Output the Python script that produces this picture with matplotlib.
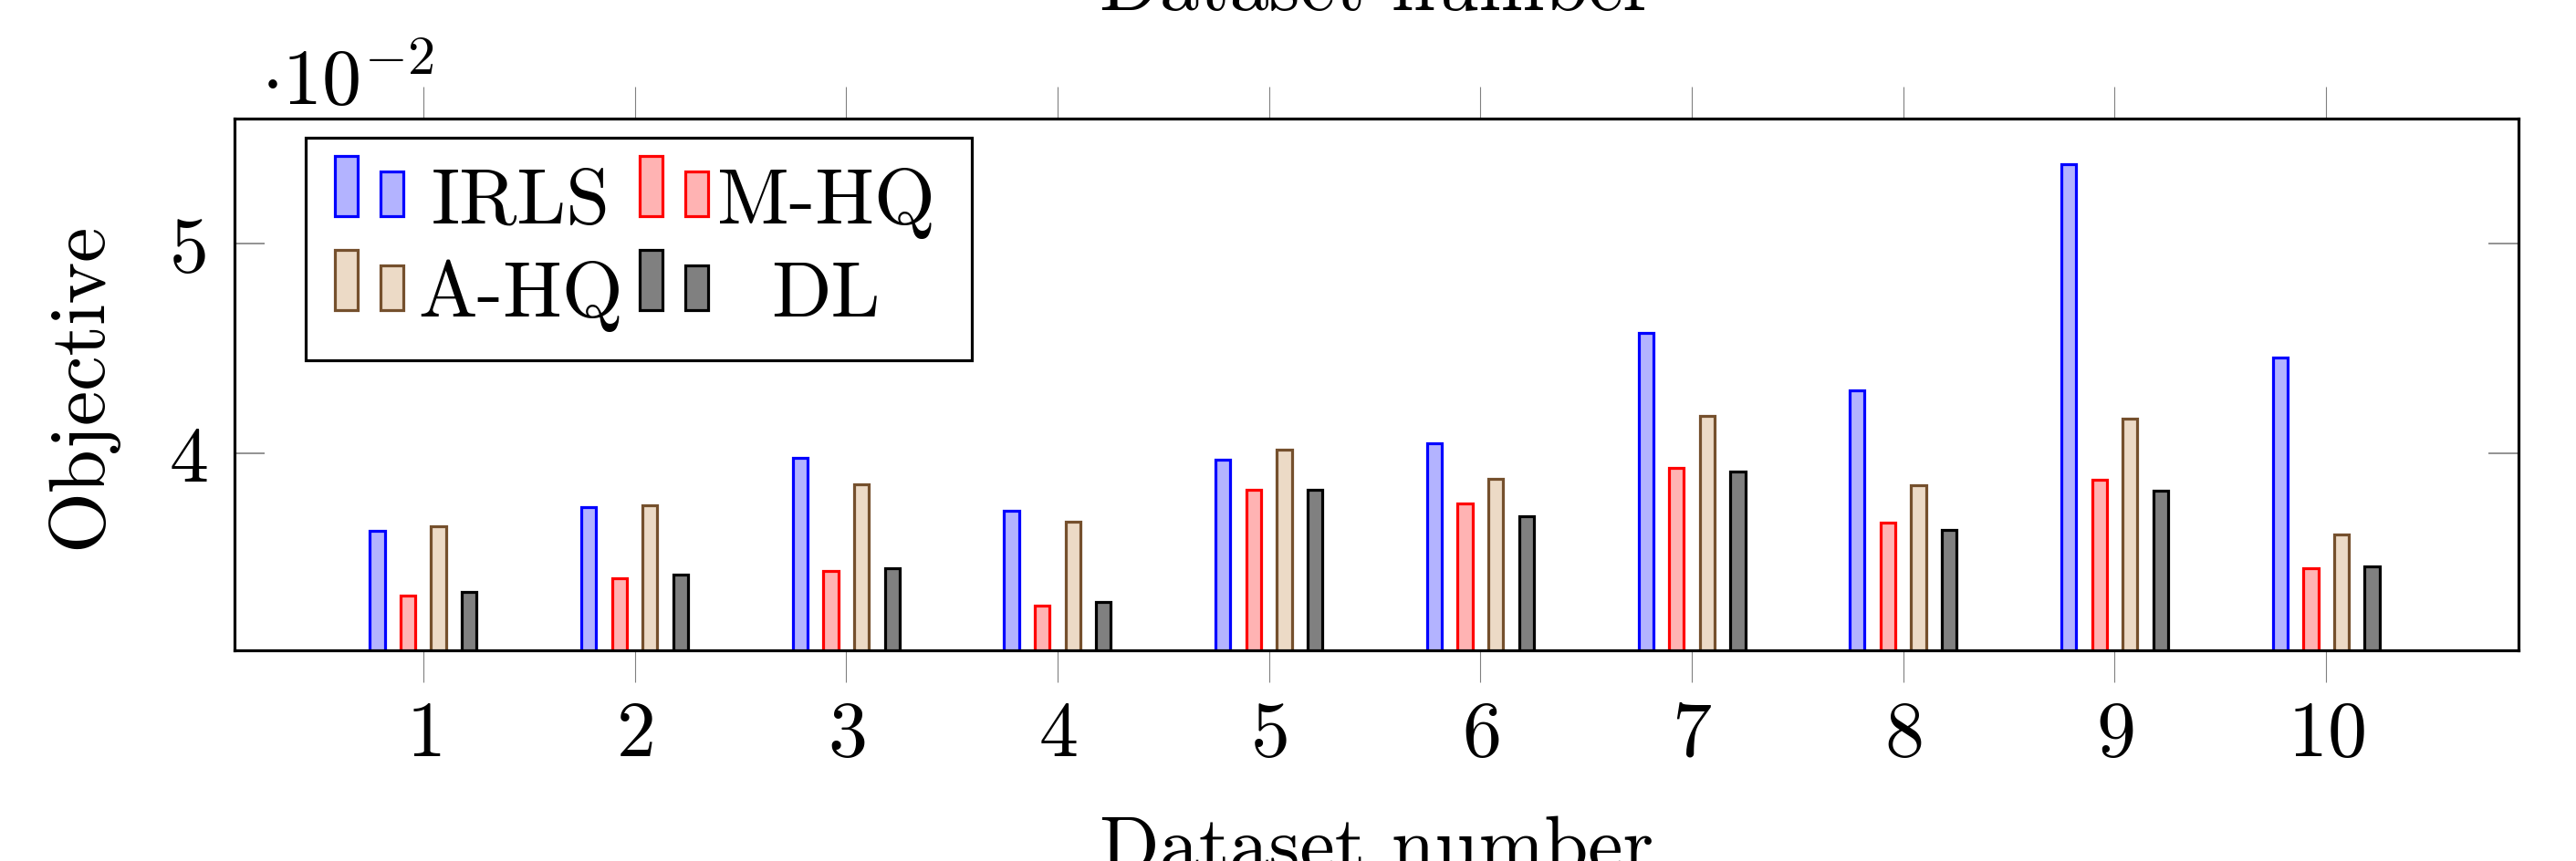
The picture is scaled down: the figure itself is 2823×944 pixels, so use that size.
import numpy as np
import matplotlib

matplotlib.use("Agg")

import matplotlib.pyplot as plt
from matplotlib.legend_handler import HandlerBase
from matplotlib.patches import Rectangle
from matplotlib.text import Text
from matplotlib.ticker import FuncFormatter


datasets = [1, 2, 3, 4, 5, 6, 7, 8, 9, 10]
methods = ["IRLS", "M-HQ", "A-HQ", "DL"]

irls = [0.03631, 0.03742, 0.03977, 0.03726, 0.03970, 0.04045, 0.04574, 0.04299, 0.05378, 0.04456]
m_hq = [0.03321, 0.03403, 0.03438, 0.03274, 0.03825, 0.03761, 0.03929, 0.03667, 0.03871, 0.03453]
a_hq = [0.03650, 0.03751, 0.03850, 0.03674, 0.04017, 0.03878, 0.04178, 0.03845, 0.04166, 0.03614]
dl = [0.03338, 0.03419, 0.03452, 0.03292, 0.03826, 0.03700, 0.03913, 0.03636, 0.03821, 0.03460]

y_ticks = [0.04, 0.05]

edge_colors = ["#0000ff", "#ff0000", "#75502d", "#000000"]
face_colors = ["#b3b3ff", "#ffb3b3", "#ecdac6", "#808080"]

FS = 62
LW = 2.3

plt.rcParams["font.family"] = "serif"
plt.rcParams["font.serif"] = ["cmr10"]
plt.rcParams["mathtext.fontset"] = "cm"
plt.rcParams["axes.unicode_minus"] = False
plt.rcParams["axes.formatter.use_mathtext"] = True
plt.rcParams["font.size"] = FS


class PairOfBars(HandlerBase):
    # pgfplots-style ybar legend image: two bars and a centred label
    def __init__(self, text):
        super().__init__()
        self.text = text

    def create_artists(self, legend, orig_handle, xdescent, ydescent,
                       width, height, fontsize, trans):
        x0, y0 = -xdescent, -ydescent + 6.5
        fc = orig_handle.get_facecolor()
        ec = orig_handle.get_edgecolor()
        tall = Rectangle((x0 + 1, y0 + 1), 18, 47.5, facecolor=fc,
                         edgecolor=ec, linewidth=LW, transform=trans)
        short = Rectangle((x0 + 37, y0 + 1), 18, 35.3, facecolor=fc,
                          edgecolor=ec, linewidth=LW, transform=trans)
        label = Text(x0 + 147.6, y0 - 3.5, self.text, ha="center",
                     va="baseline", fontsize=fontsize, transform=trans)
        return [tall, short, label]


fig = plt.figure(figsize=(28.23, 9.45), dpi=100)
ax = fig.add_axes([0.0910, 0.2444, 0.8867, 0.6170])

x = np.array(datasets, dtype=float)
series = [irls, m_hq, a_hq, dl]
offsets = (np.arange(len(series)) - 1.5) * 0.145
first_bars = []
for vals, off, fc, ec in zip(series, offsets, face_colors, edge_colors):
    bars = ax.bar(x + off, vals, width=0.07, facecolor=fc, edgecolor=ec,
                  linewidth=LW, zorder=2)
    first_bars.append(bars[0])

ax.set_xlim(0.107, 10.91)
ax.set_ylim(0.0306, 0.05594)
ax.set_xticks(datasets)
ax.set_yticks(y_ticks)
ax.yaxis.set_major_formatter(FuncFormatter(lambda v, _: f"{v * 100:g}"))

ax.tick_params(axis="x", direction="out", top=True, bottom=True,
               length=25, width=0.8, color="#808080", pad=14, labelsize=FS)
ax.tick_params(axis="y", direction="in", left=True, right=True,
               length=24, width=1.2, color="#808080", pad=20, labelsize=FS)
for sp in ax.spines.values():
    sp.set_linewidth(LW)
    sp.set_zorder(3)

ax.set_ylabel("Objective", fontsize=FS)
ax.yaxis.set_label_coords(-0.0515, 0.5)
ax.set_xlabel("Dataset number", fontsize=FS, labelpad=35)
ax.text(0.5, 1.205, "Dataset number", transform=ax.transAxes,
        ha="center", va="baseline", fontsize=FS)
ax.text(0.0115, 1.0274, r"$\cdot 10^{-2}$", transform=ax.transAxes,
        ha="left", va="baseline", fontsize=FS)

order = [0, 2, 1, 3]
handles = [first_bars[i] for i in order]
handler_map = {first_bars[i]: PairOfBars(methods[i]) for i in range(4)}
leg = ax.legend(handles=handles, labels=[""] * 4, handler_map=handler_map,
                ncols=2, loc="upper left", bbox_to_anchor=(0.0312, 0.964),
                borderaxespad=0, handlelength=3.88, handleheight=0.8,
                handletextpad=0, columnspacing=0, borderpad=0.36,
                labelspacing=0.26, fancybox=False, framealpha=1,
                edgecolor="black", fontsize=FS)
leg.get_frame().set_linewidth(LW)

fig.savefig("out.png", dpi=100)
